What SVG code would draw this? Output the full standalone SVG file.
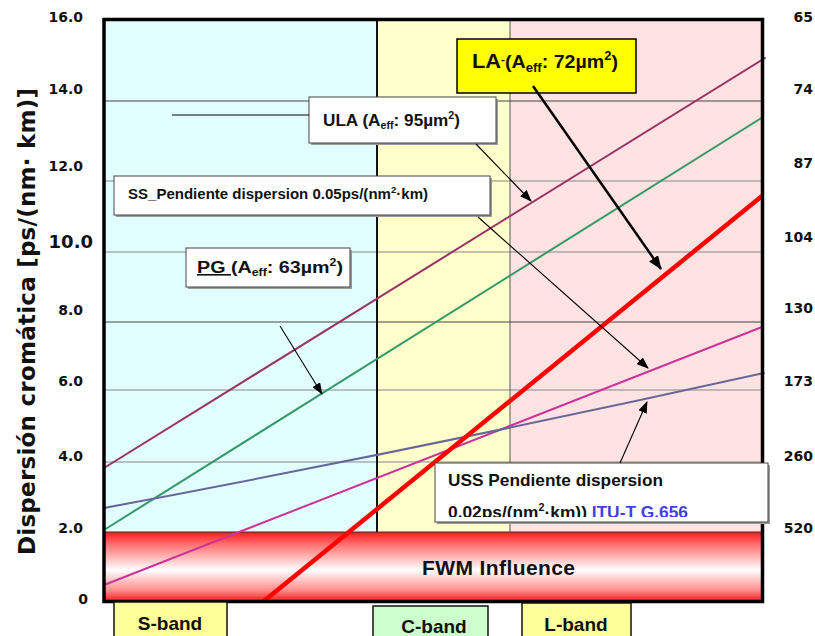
<svg xmlns="http://www.w3.org/2000/svg" width="815" height="636" viewBox="0 0 815 636">
  <defs>
    <style>
      .num { font-family: "DejaVu Sans", "Liberation Sans", sans-serif; font-weight: bold; fill: #111; }
      .lbl { font-family: "Liberation Sans", Arial, sans-serif; font-weight: bold; fill: #111; }
      .grid { stroke-width: 1.2; fill: none; }
      .curve { fill: none; stroke-width: 2; stroke-linecap: round; }
      .box { fill: #ffffff; stroke: #444; stroke-width: 1; }
      .shadow { fill: #9a9a9a; }
      .lead { stroke: #000; stroke-width: 1.1; fill: none; }
      .band { stroke: #111; stroke-width: 1.5; }
    </style>
    <linearGradient id="fwmFill" x1="0" y1="0" x2="0" y2="1">
      <stop offset="0" stop-color="#ff1a1a"/>
      <stop offset="0.18" stop-color="#ff7070"/>
      <stop offset="0.55" stop-color="#ffffff"/>
      <stop offset="0.85" stop-color="#ff8a8a"/>
      <stop offset="1" stop-color="#ff1a1a"/>
    </linearGradient>
    <marker id="arrow" markerUnits="userSpaceOnUse" markerWidth="12" markerHeight="9" refX="11" refY="4.5" orient="auto">
      <path d="M0,0 L12,4.5 L0,9 z" fill="#000"/>
    </marker>
    <marker id="arrowBig" markerUnits="userSpaceOnUse" markerWidth="14" markerHeight="11" refX="13" refY="5.5" orient="auto">
      <path d="M0,0 L14,5.5 L0,11 z" fill="#000"/>
    </marker>
    <clipPath id="ussClip">
      <rect x="435" y="463" width="333" height="54"/>
    </clipPath>
  </defs>

  <rect x="0" y="0" width="815" height="636" fill="#ffffff"/>

  <!-- band backgrounds -->
  <g id="bands-bg">
    <rect x="104" y="19" width="273" height="513" fill="#e2ffff"/>
    <rect x="377" y="19" width="133" height="513" fill="#ffffcc"/>
    <rect x="510" y="19" width="252" height="513" fill="#ffe2e2"/>
  </g>

  <!-- horizontal grid -->
  <g id="grid">
    <line class="grid" x1="104" y1="101" x2="764" y2="101" stroke="#444"/>
    <line class="grid" x1="104" y1="181" x2="764" y2="181" stroke="#888"/>
    <line class="grid" x1="104" y1="252" x2="764" y2="252" stroke="#888"/>
    <line class="grid" x1="104" y1="322" x2="764" y2="322" stroke="#444"/>
    <line class="grid" x1="104" y1="390" x2="764" y2="390" stroke="#888"/>
    <line class="grid" x1="104" y1="462" x2="764" y2="462" stroke="#888"/>
    <line x1="377" y1="19" x2="377" y2="532" stroke="#111" stroke-width="2"/>
    <line x1="510" y1="19" x2="510" y2="532" stroke="#555" stroke-width="1"/>
  </g>

  <!-- FWM region -->
  <g id="fwm">
    <rect x="104" y="532" width="658" height="69" fill="url(#fwmFill)"/>
    <line x1="104" y1="532" x2="762" y2="532" stroke="#333" stroke-width="1.2"/>
    <text class="lbl" x="422" y="575" font-size="21" textLength="153">FWM Influence</text>
  </g>

  <!-- dispersion curves -->
  <g id="curves">
    <line class="curve" x1="104" y1="468" x2="765" y2="58" stroke="#993366"/>
    <line class="curve" x1="104" y1="530" x2="763" y2="117" stroke="#339966"/>
    <line class="curve" x1="104" y1="585" x2="762" y2="327" stroke="#cc3399"/>
    <path class="curve" d="M104,508 Q430,447 764,373" stroke="#666699"/>
    <line x1="264" y1="601" x2="762" y2="196" stroke="#ff0000" stroke-width="4.5"/>
  </g>

  <!-- plot frame -->
  <rect x="104" y="19.5" width="658.5" height="582" fill="none" stroke="#000" stroke-width="3.5"/>

  <!-- left axis -->
  <g id="axis-left">
    <text class="num" x="83" y="22" font-size="14" text-anchor="end">16.0</text>
    <text class="num" x="83" y="94" font-size="14" text-anchor="end">14.0</text>
    <text class="num" x="83" y="171" font-size="14" text-anchor="end">12.0</text>
    <text class="num" x="93" y="248" font-size="18" text-anchor="end">10.0</text>
    <text class="num" x="83" y="315" font-size="14" text-anchor="end">8.0</text>
    <text class="num" x="83" y="386" font-size="14" text-anchor="end">6.0</text>
    <text class="num" x="83" y="461" font-size="14" text-anchor="end">4.0</text>
    <text class="num" x="83" y="533" font-size="14" text-anchor="end">2.0</text>
    <text class="num" x="88" y="604" font-size="14" text-anchor="end">0</text>
    <text class="num" transform="translate(35,555) rotate(-90)" font-size="23" textLength="467">Dispersión cromática [ps/(nm· km)]</text>
  </g>

  <!-- right axis -->
  <g id="axis-right">
    <text class="num" x="813" y="22" font-size="14" text-anchor="end">65</text>
    <text class="num" x="813" y="94" font-size="14" text-anchor="end">74</text>
    <text class="num" x="813" y="168" font-size="14" text-anchor="end">87</text>
    <text class="num" x="813" y="242" font-size="14" text-anchor="end">104</text>
    <text class="num" x="813" y="313" font-size="14" text-anchor="end">130</text>
    <text class="num" x="813" y="386" font-size="14" text-anchor="end">173</text>
    <text class="num" x="813" y="461" font-size="14" text-anchor="end">260</text>
    <text class="num" x="813" y="533" font-size="14" text-anchor="end">520</text>
  </g>

  <!-- callouts -->
  <g id="la">
    <rect x="457" y="39" width="179" height="54" fill="#ffff00" stroke="#000" stroke-width="1.5"/>
    <text class="lbl" x="472" y="68" font-size="20" textLength="146" lengthAdjust="spacingAndGlyphs">LA<tspan font-size="11" dy="-5">-</tspan><tspan font-size="18" dy="5">(A</tspan><tspan font-size="12" dy="4">eff</tspan><tspan font-size="18" dy="-4">: 72µm</tspan><tspan font-size="12" dy="-8">2</tspan><tspan font-size="18" dy="8">)</tspan></text>
  </g>

  <g id="ula">
    <rect class="shadow" x="311" y="99" width="187" height="46"/>
    <rect class="box" x="309" y="97" width="187" height="46"/>
    <text class="lbl" x="323" y="126" font-size="16" textLength="137" lengthAdjust="spacingAndGlyphs">ULA (A<tspan font-size="10" dy="3">eff</tspan><tspan dy="-3">: 95µm</tspan><tspan font-size="10" dy="-7">2</tspan><tspan dy="7">)</tspan></text>
  </g>

  <g id="ss">
    <rect class="shadow" x="116" y="178" width="376" height="39"/>
    <rect class="box" x="114" y="176" width="376" height="39"/>
    <text class="lbl" x="128" y="199" font-size="14" textLength="300" lengthAdjust="spacingAndGlyphs">SS_Pendiente dispersion 0.05ps/(nm<tspan font-size="9" dy="-6">2</tspan><tspan dy="6">·km)</tspan></text>
  </g>

  <g id="pg">
    <rect class="shadow" x="188" y="250" width="164" height="39"/>
    <rect class="box" x="186" y="248" width="164" height="39"/>
    <text class="lbl" x="197" y="273" font-size="16" textLength="146" lengthAdjust="spacingAndGlyphs"><tspan text-decoration="underline">PG </tspan>(A<tspan font-size="10" dy="3">eff</tspan><tspan dy="-3">: 63µm</tspan><tspan font-size="10" dy="-7">2</tspan><tspan dy="7">)</tspan></text>
  </g>

  <g id="uss">
    <rect class="shadow" x="437" y="465" width="333" height="59"/>
    <rect class="box" x="435" y="463" width="333" height="59"/>
    <g clip-path="url(#ussClip)">
      <text class="lbl" x="448" y="486" font-size="17" textLength="215" lengthAdjust="spacingAndGlyphs">USS Pendiente dispersion</text>
      <text class="lbl" x="448" y="518" font-size="16" textLength="240" lengthAdjust="spacingAndGlyphs">0.02ps/(nm<tspan font-size="10" dy="-7">2</tspan><tspan dy="7">·km)) </tspan><tspan fill="#4040ee">ITU-T G.656</tspan></text>
    </g>
  </g>

  <!-- leader lines and arrows -->
  <g id="connectors">
    <line class="lead" x1="172" y1="115" x2="309" y2="115"/>
    <line class="lead" x1="476" y1="144" x2="531" y2="201" marker-end="url(#arrow)"/>
    <line class="lead" x1="478" y1="217" x2="648" y2="368" marker-end="url(#arrow)"/>
    <line class="lead" x1="280" y1="326" x2="322" y2="394" marker-end="url(#arrow)"/>
    <line class="lead" x1="620" y1="463" x2="647" y2="402" marker-end="url(#arrow)"/>
    <line x1="533" y1="86" x2="661" y2="269" stroke="#000" stroke-width="2.5" marker-end="url(#arrowBig)"/>
  </g>

  <!-- band labels -->
  <g id="s-band">
    <rect class="band" x="114" y="602" width="113" height="40" fill="#ffff99"/>
    <text class="lbl" x="170" y="630" font-size="19" text-anchor="middle">S-band</text>
  </g>
  <g id="c-band">
    <rect class="band" x="373" y="606" width="115" height="40" fill="#ccffcc"/>
    <text class="lbl" x="434" y="633" font-size="19" text-anchor="middle">C-band</text>
  </g>
  <g id="l-band">
    <rect class="band" x="522" y="603" width="109" height="40" fill="#ffff99"/>
    <text class="lbl" x="576" y="631" font-size="19" text-anchor="middle">L-band</text>
  </g>
</svg>
